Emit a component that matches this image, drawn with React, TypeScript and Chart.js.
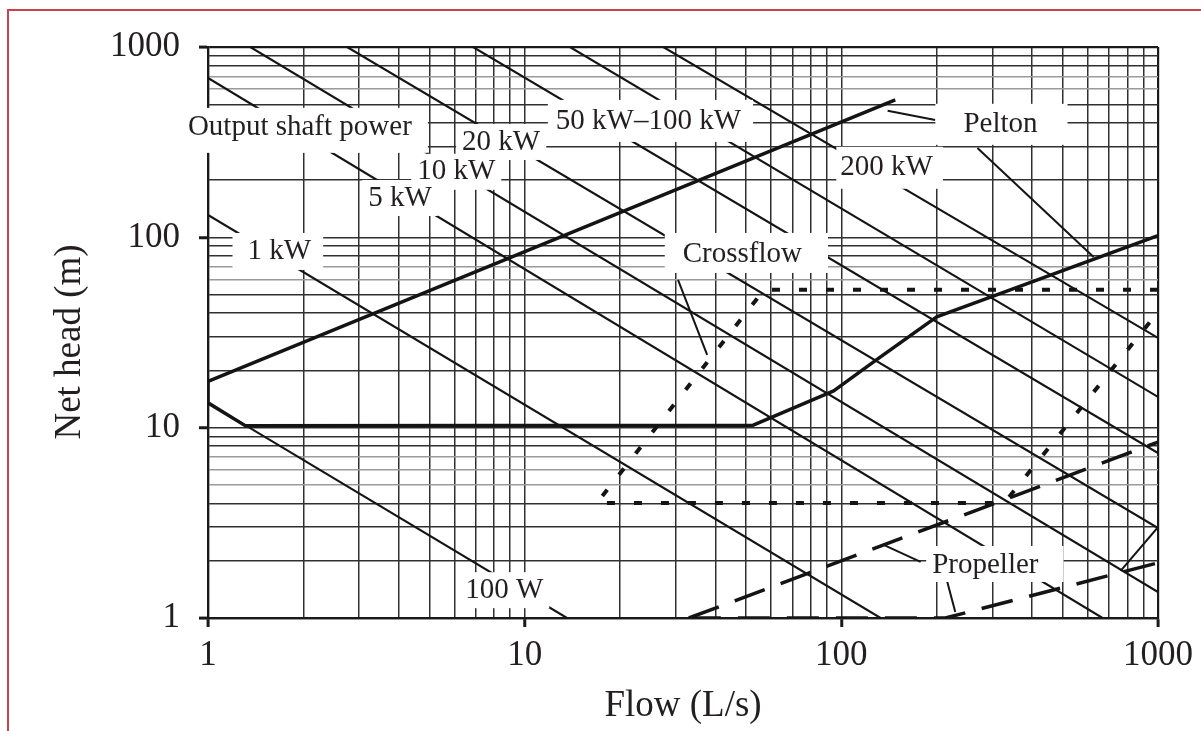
import React, { useEffect, useRef } from 'react';
import { Chart, registerables } from 'chart.js';

Chart.register(...registerables);

// ---------- axes ----------
const GRID_VALUES = [1, 2, 3, 4, 5, 6, 7, 8, 9, 10, 20, 30, 40, 50, 60, 70, 80, 90, 100, 200, 300, 400, 500, 600, 700, 800, 900, 1000];
const LABELLED_TICKS = [1, 10, 100, 1000];
const FAINT_HEAD_LINES = [5, 6, 7, 60, 70, 600, 700];

// ---------- turbine envelopes (Q in L/s, H in m) ----------
const peltonQ = [148, 1, 1, 1.31, 52.7, 94.6, 129, 200, 1000];
const peltonH = [527, 17.5, 13.5, 10.25, 10.3, 15.6, 22.7, 38.2, 102];

const crossflowQ = [1000, 57, 16.9, 327, 1000];
const crossflowH = [53, 53, 4.02, 4.02, 40.5];

const propellerUpperQ = [33, 1000];
const propellerUpperH = [1, 8.4];
const propellerLowerQ = [33, 213, 1000];
const propellerLowerH = [1, 1, 1.95];
const propellerEdgeQ = [762, 1000];
const propellerEdgeH = [1.77, 3.0];

// ---------- output shaft power lines ----------
const powerNames = ['100 W', '1 kW', '5 kW', '10 kW', '20 kW', '50 kW', '100 kW', '200 kW'];
const powerStartQ = [1, 1, 1, 1.36, 2.75, 6.87, 13.9, 27.4];
const powerStartH = [13.5, 131, 688, 1000, 1000, 1000, 1000, 1000];
const powerEndQ = [13.6, 133, 668, 1000, 1000, 1000, 1000, 1000];
const powerEndH = [1, 1, 1, 1.37, 2.97, 7.36, 14.5, 29.6];

// ---------- leader lines from labels ----------
const leaderFromQ = [198, 269, 30.5, 178, 216];
const leaderFromH = [414, 295, 59.7, 1.97, 1.55];
const leaderToQ = [140, 626, 37.7, 136, 229];
const leaderToH = [462, 78.9, 24.1, 2.42, 1.075];

// ---------- in-plot labels ----------
const labelTexts = ['Output shaft power', '20 kW', '10 kW', '5 kW', '1 kW', '50 kW\u2013100 kW', '200 kW', 'Pelton', 'Crossflow', 'Propeller', '100 W'];
const labelQ = [1.95, 8.43, 6.08, 4.04, 1.68, 24.6, 139, 318, 48.7, 285, 8.62];
const labelH = [376, 317, 221, 161, 84.8, 409, 232, 390, 81.8, 1.9, 1.4];

const SERIF = '"Liberation Serif", "Times New Roman", serif';
const INK = '#231f20';

// white knock-out padding around each label: [left, right, top, bottom]
const LABEL_PAD: Record<string, number[]> = {
  'Output shaft power': [8, 16, 5, 10],
  '1 kW': [15, 12, 3, 4],
  'Crossflow': [18, 26, 6, 4],
  'Pelton': [28, 30, 6, 5],
  '200 kW': [4, 10, 6, 6],
  'Propeller': [6, 25, 4, 2],
  '50 kW\u2013100 kW': [8, 12, 6, 6],
  '100 W': [4, 6, 3, 3],
};

const toPoints = (qs: number[], hs: number[]) => qs.map((q, i) => ({ x: q, y: hs[i] }));

const labelPlugin = {
  id: 'inPlotLabels',
  afterDatasetsDraw(chart: any) {
    const { ctx, scales } = chart;
    const xs = scales.x;
    const ys = scales.y;
    ctx.save();
    ctx.font = `29px ${SERIF}`;
    ctx.textAlign = 'center';
    ctx.textBaseline = 'middle';
    labelTexts.forEach((t, i) => {
      const px = xs.getPixelForValue(labelQ[i]);
      const py = ys.getPixelForValue(labelH[i]);
      const w = ctx.measureText(t).width;
      const [l, r, tp, b] = LABEL_PAD[t] || [6, 6, 3, 3];
      ctx.fillStyle = '#ffffff';
      ctx.fillRect(px - w / 2 - l, py - 15 - tp, w + l + r, 30 + tp + b);
      ctx.fillStyle = INK;
      ctx.fillText(t, px, py);
    });
    ctx.restore();
  },
};

const titlePlugin = {
  id: 'axisTitles',
  afterDraw(chart: any) {
    const { ctx, chartArea } = chart;
    ctx.save();
    ctx.fillStyle = INK;
    ctx.font = `37px ${SERIF}`;
    ctx.textAlign = 'center';
    ctx.textBaseline = 'middle';
    ctx.fillText('Flow (L/s)', (chartArea.left + chartArea.right) / 2, 706);
    ctx.translate(70, 342);
    ctx.rotate(-Math.PI / 2);
    ctx.fillText('Net head (m)', 0, 0);
    ctx.restore();
  },
};

export default function App() {
  const ref = useRef<HTMLCanvasElement | null>(null);

  useEffect(() => {
    document.body.style.margin = '0';
    const canvas = ref.current;
    if (!canvas) return;

    const line = (label: string, qs: number[], hs: number[], style: any) => ({
      label,
      data: toPoints(qs, hs),
      showLine: true,
      pointRadius: 0,
      pointHoverRadius: 0,
      borderColor: '#141414',
      backgroundColor: '#141414',
      fill: false,
      tension: 0,
      ...style,
    });

    const datasets: any[] = [
      line('Pelton', peltonQ, peltonH, { borderWidth: 3.5, borderJoinStyle: 'round' }),
      line('Crossflow', crossflowQ, crossflowH, { borderWidth: 4, borderDash: [8, 19], borderCapStyle: 'butt' }),
      line('Propeller upper', propellerUpperQ, propellerUpperH, { borderWidth: 3.5, borderDash: [32, 17] }),
      line('Propeller lower', propellerLowerQ, propellerLowerH, { borderWidth: 3.5, borderDash: [32, 17] }),
      line('Propeller edge', propellerEdgeQ, propellerEdgeH, { borderWidth: 2 }),
    ];
    powerNames.forEach((n, i) => {
      datasets.push(line(n, [powerStartQ[i], powerEndQ[i]], [powerStartH[i], powerEndH[i]], { borderWidth: 2.1 }));
    });
    leaderFromQ.forEach((q, i) => {
      datasets.push(line('leader ' + i, [q, leaderToQ[i]], [leaderFromH[i], leaderToH[i]], { borderWidth: 2 }));
    });

    const isMajor = (v: number) => LABELLED_TICKS.includes(v);

    const axis = (isY: boolean) => ({
      type: 'logarithmic',
      min: 1,
      max: 1000,
      afterBuildTicks: (scale: any) => {
        scale.ticks = GRID_VALUES.map((v) => ({ value: v, major: isMajor(v) }));
      },
      afterFit: (scale: any) => {
        if (isY) scale.width = 208;
        else scale.height = 113;
      },
      ticks: {
        autoSkip: false,
        maxRotation: 0,
        minRotation: 0,
        padding: isY ? 19 : 8,
        color: INK,
        font: { family: SERIF, size: 35 },
        callback: (v: any) => (isMajor(Number(v)) ? String(v) : ''),
      },
      grid: {
        drawOnChartArea: true,
        drawTicks: true,
        tickLength: 9,
        tickWidth: 3,
        tickColor: (c: any) => (c.tick && isMajor(c.tick.value) ? '#1a1a1a' : 'rgba(0,0,0,0)'),
        color: (c: any) => {
          const v = c.tick ? c.tick.value : 0;
          if (v === 1 || v === 1000) return '#1a1a1a';
          if (isY && FAINT_HEAD_LINES.includes(v)) return '#9a9a9a';
          return '#303030';
        },
        lineWidth: (c: any) => {
          const v = c.tick ? c.tick.value : 0;
          if (v === 1 || v === 1000) return 2.2;
          return 1.5;
        },
      },
      border: { display: true, color: '#1a1a1a', width: 2.2 },
      title: { display: false },
    });

    const chart = new Chart(canvas, {
      type: 'scatter',
      data: { datasets },
      options: {
        responsive: false,
        animation: false,
        devicePixelRatio: 1,
        layout: { padding: { top: 47, right: 43, left: 0, bottom: 0 } },
        plugins: { legend: { display: false }, tooltip: { enabled: false } },
        scales: { x: axis(false) as any, y: axis(true) as any },
      },
      plugins: [labelPlugin, titlePlugin],
    });

    return () => chart.destroy();
  }, []);

  return (
    <div style={{ position: 'relative', width: 1201, height: 731, overflow: 'hidden', background: '#ffffff' }}>
      <canvas ref={ref} width={1201} height={731} style={{ display: 'block' }} />
      <div
        style={{
          position: 'absolute',
          left: 7,
          top: 9,
          width: 1300,
          height: 900,
          border: '2px solid #c9434c',
          pointerEvents: 'none',
        }}
      />
    </div>
  );
}
